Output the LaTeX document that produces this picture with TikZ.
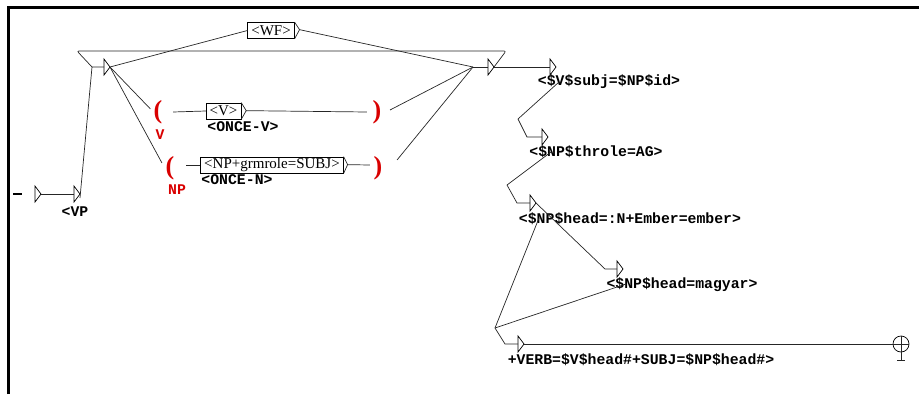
\documentclass[tikz,border=0pt]{standalone}
\usepackage{fontspec}
\setmainfont{Liberation Serif}
\newfontfamily\outfont{Liberation Mono}
\usetikzlibrary{positioning}

\tikzset{
  edge/.style={line width=0.7pt, black!85},
  box/.style={draw, line width=0.7pt, inner xsep=3.5pt, inner ysep=0pt,
    minimum height=16pt, font=\fontsize{15}{15}\selectfont},
  outtxt/.style={font=\outfont\bfseries\fontsize{14.8}{15}\selectfont, inner sep=0pt},
  redlbl/.style={outtxt, text=red!85!black},
  paren/.style={text=red!85!black, inner sep=0pt,
    font=\bfseries\fontsize{26}{26}\selectfont},
  tri/.pic={
    \draw[line width=0.7pt] (0,-8) -- (6,0) -- (0,8) -- cycle;
    \coordinate (-in) at (0,0);
    \coordinate (-out) at (6,0);
    \coordinate (-low) at (9,15);
  }
}

\begin{document}
\begin{tikzpicture}[x=1pt,y=-1pt]
  \useasboundingbox (0,0) rectangle (919,394);
  % window frame
  \draw[line width=3pt] (8,394) -- (8,7) -- (919,7);

  % entry and <VP
  \coordinate (s0) at (13,194);
  \coordinate (s1) at (22,194);
  \draw[line width=1.6pt] (s0) -- (s1);
  \pic (t0) at (35,194) {tri};
  \pic (vp) at (74,194) {tri};
  \node[outtxt] (vplbl) at (75,212) {<VP};
  \draw[edge] (t0-out) -- (vp-in);
  \coordinate (up) at (92,67);
  \pic (lft) at (104,67) {tri};
  \draw[edge] ([yshift=-4pt]vp-out) -- (up) -- (lft-in);

  % <WF> branch
  \node[box] (wf) at (271,30.5) {<WF>};
  \draw[edge] (wf.north east) -- ++(5,7.5) coordinate (wf-out) -- (wf.south east);
  \coordinate (join) at (473,67);
  \draw[edge] (lft-out) -- (wf.west);
  \draw[edge] (wf-out) -- (join);

  % V group
  \node[paren] (vopen) at (158,112) {(};
  \node[redlbl] (vname) at (160,135) {V};
  \node[box] (vbox) at (223.5,111) {<V>};
  \draw[edge] (vbox.north east) -- ++(5,8) coordinate (vbox-out) -- (vbox.south east);
  \node[outtxt] (vout) at (243,127) {<ONCE-V>};
  \node[paren] (vclose) at (377,112) {)};
  \draw[edge] (lft-out) -- ([shift={(-3,-3)}]vopen.west);
  \draw[edge] ([xshift=10.5pt]vopen.east) -- (vbox.west);
  \draw[edge] (vbox-out) -- ([xshift=-5.5pt]vclose.west);
  \draw[edge] ([shift={(8.5,-2)}]vclose.east) -- (join);

  % NP group
  \node[paren] (npopen) at (170,168) {(};
  \node[redlbl] (npname) at (177,190) {NP};
  \node[box] (npbox) at (272,165) {<NP+grmrole=SUBJ>};
  \draw[edge] (npbox.north east) -- ++(4,8) coordinate (npbox-out) -- (npbox.south east);
  \node[outtxt] (npout) at (237,180) {<ONCE-N>};
  \node[paren] (npclose) at (378,168) {)};
  \draw[edge] (lft-out) -- ([shift={(-3.5,-5)}]npopen.west);
  \draw[edge] ([shift={(11.5,-3)}]npopen.east) -- (npbox.west);
  \draw[edge] (npbox-out) -- ([shift={(-3.5,-3)}]npclose.west);
  \draw[edge] ([shift={(14.5,-8)}]npclose.east) -- (join);

  % right end of the group and loop back
  \pic (rgt) at (488,67) {tri};
  \draw[edge] (join) -- (rgt-in);
  \coordinate (loopr) at (506,51);
  \coordinate (loopl) at (77,51);
  \draw[edge, rounded corners=2pt] (rgt-out) -- (loopr) -- (loopl) -- (up);

  % outputs
  \pic (t1) at (550,67) {tri};
  \node[outtxt] (subj) at (609,82) {<\$V\$subj=\$NP\$id>};
  \draw[edge] (rgt-out) -- (t1-in);
  \coordinate (b1) at (518,119);
  \coordinate (c1) at (527,137);
  \pic (t2) at (542,137) {tri};
  \node[outtxt] (throle) at (596,152) {<\$NP\$throle=AG>};
  \draw[edge] (t1-low) -- (b1) -- (c1) -- (t2-in);
  \coordinate (b2) at (507,185);
  \coordinate (c2) at (517,203);
  \pic (t3) at (530,203) {tri};
  \node[outtxt] (ember) at (630,219) {<\$NP\$head=:N+Ember=ember>};
  \draw[edge] (t2-low) -- (b2) -- (c2) -- (t3-in);
  \coordinate (c3) at (605,269);
  \pic (t4) at (617,269) {tri};
  \node[outtxt] (magyar) at (682,285) {<\$NP\$head=magyar>};
  \draw[edge] (t3-out) -- (c3) -- (t4-in);
  \coordinate (b4) at (495,328);
  \coordinate (c4) at (505,344);
  \pic (t5) at (518,344) {tri};
  \node[outtxt] (verb) at (641,360) {+VERB=\$V\$head\#+SUBJ=\$NP\$head\#>};
  \draw[edge] (t3-low) -- (b4);
  \draw[edge] (t4-low) -- (b4);
  \draw[edge] (b4) -- (c4) -- (t5-in);

  % final state
  \node[draw, circle, line width=0.7pt, minimum size=16pt, inner sep=0pt] (fin) at (901,344) {};
  \draw[edge] (t5-out) -- (fin.east);
  \draw[edge] (fin.north) -- ++(0,25) coordinate (finbot);
  \draw[edge] ([xshift=-4pt]finbot) -- ([xshift=4pt]finbot);
\end{tikzpicture}
\end{document}
